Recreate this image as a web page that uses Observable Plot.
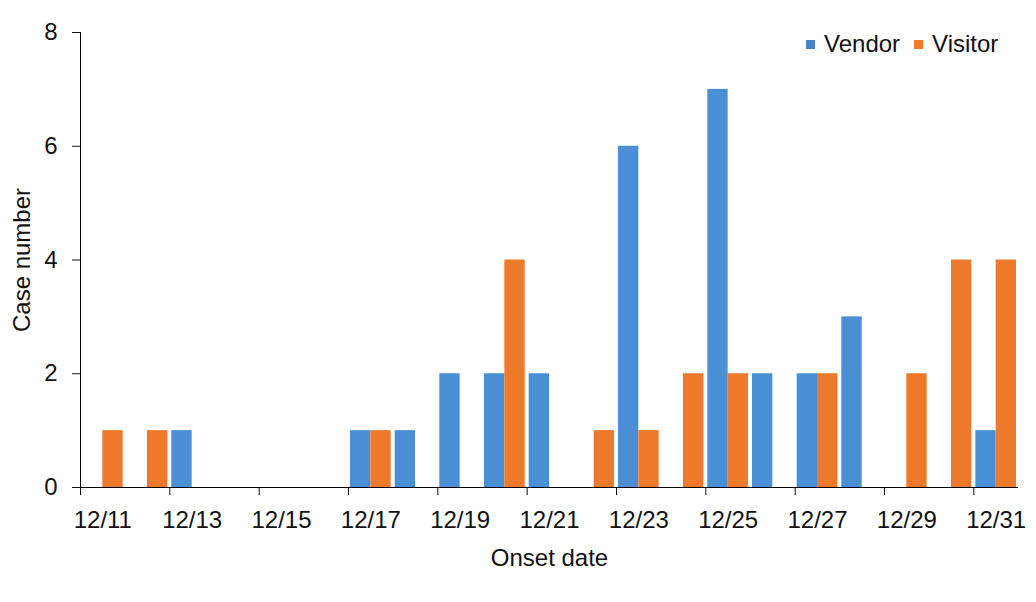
<!DOCTYPE html>
<html><head><meta charset="utf-8">
<script src="https://cdn.jsdelivr.net/npm/d3@7"></script>
<script src="https://cdn.jsdelivr.net/npm/@observablehq/plot@0.6"></script>
<style>
body{margin:0;background:#fff;}
#wrap{position:relative;width:1036px;height:602px;font-family:"Liberation Sans",Arial,sans-serif;}
.legend{position:absolute;top:30px;left:806px;display:flex;align-items:center;font-size:24px;color:#111;line-height:28px;}
.legend .item{display:flex;align-items:center;margin-right:14px;}
.legend .sw{display:inline-block;width:9px;height:9px;margin-right:9px;}
</style></head>
<body><div id="wrap"></div>
<script>
const dates = ["12/11","12/12","12/13","12/14","12/15","12/16","12/17","12/18","12/19","12/20","12/21","12/22","12/23","12/24","12/25","12/26","12/27","12/28","12/29","12/30","12/31"];
const vendor = [0,0,1,0,0,0,1,1,2,2,2,0,6,0,7,2,2,3,0,0,1];
const visitor = [1,1,0,0,0,0,1,0,0,4,0,1,1,2,2,0,2,0,2,4,4];
const seriesNames = ["Vendor","Visitor"];
const colors = ["#4a8ed6","#ef792a"];
const legendColors = ["#4a84c4","#ef792a"];
const yTicks = [0,2,4,6,8];
const xTitle = "Onset date";
const yTitle = "Case number";

const rows = [];
dates.forEach((d, i) => {
  rows.push({i, date: d, series: "Vendor", value: vendor[i]});
  rows.push({i, date: d, series: "Visitor", value: visitor[i]});
});
const bars = rows.filter(r => r.value > 0);
const gap = 0.045;
const tickIdx = d3.range(0, dates.length, 2);

const chart = Plot.plot({
  width: 1036, height: 602,
  marginTop: 32, marginBottom: 115, marginLeft: 80, marginRight: 18,
  style: {fontFamily: '"Liberation Sans", Arial, sans-serif', fontSize: "24px", color: "#111", background: "white"},
  x: {type: "linear", domain: [0, dates.length]},
  y: {domain: [0, 8]},
  color: {domain: seriesNames, range: colors},
  marks: [
    Plot.rectY(bars, {
      x1: r => r.series === "Vendor" ? r.i + gap : r.i + 0.5,
      x2: r => r.series === "Vendor" ? r.i + 0.5 : r.i + 1 - gap,
      y1: 0, y2: "value", fill: "series"
    }),
    Plot.axisY({ticks: yTicks, tickSize: 8, tickPadding: 15, label: yTitle, labelAnchor: "center", labelOffset: 68, labelArrow: "none"}),
    Plot.axisX({ticks: tickIdx, tickSize: 8, tickFormat: () => "", label: null}),
    Plot.axisX({ticks: tickIdx.map(i => i + 0.5), tickSize: 0, tickPadding: 23, tickFormat: v => dates[Math.floor(v)], label: xTitle, labelAnchor: "center", labelOffset: 78, labelArrow: "none"}),
    Plot.ruleX([0], {stroke: "#000"}),
    Plot.ruleY([0], {stroke: "#000"})
  ]
});
const wrap = document.getElementById("wrap");
wrap.appendChild(chart);
const leg = document.createElement("div");
leg.className = "legend";
seriesNames.forEach((s, k) => {
  const it = document.createElement("span");
  it.className = "item";
  const sw = document.createElement("span");
  sw.className = "sw";
  sw.style.background = legendColors[k];
  it.appendChild(sw);
  it.appendChild(document.createTextNode(s));
  leg.appendChild(it);
});
wrap.appendChild(leg);
</script>
</body></html>
